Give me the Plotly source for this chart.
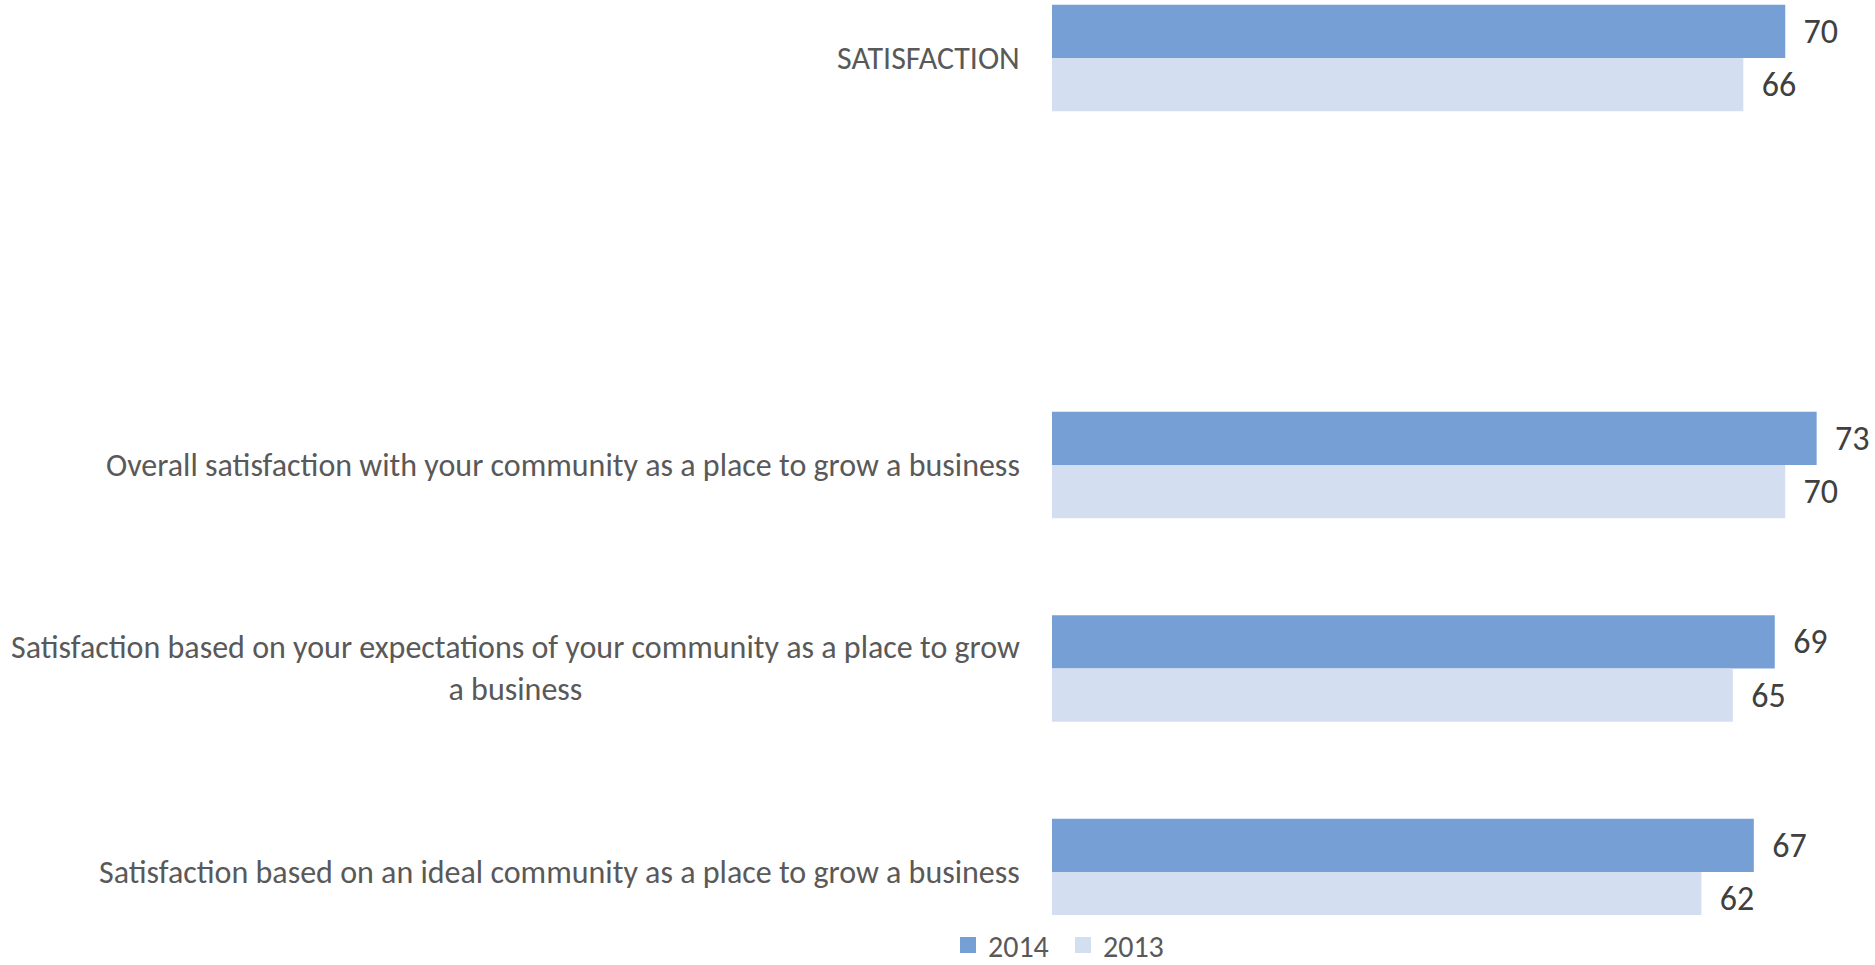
import plotly.graph_objects as go

# Survey items (top to bottom); the blank entry keeps an empty row between
# the summary score and the detail items.
categories = [
    "SATISFACTION",
    " ",
    "Overall satisfaction with your community as a place to grow a business",
    "Satisfaction based on your expectations of your community as a place to grow<br>a business",
    "Satisfaction based on an ideal community as a place to grow a business",
]
values_2014 = [70, None, 73, 69, 67]
values_2013 = [66, None, 70, 65, 62]
series_names = ["2014", "2013"]

color_2014 = "#759fd5"
color_2013 = "#d3dff0"
font_family = "Carlito, Lato, sans-serif"

fig = go.Figure()
for name, vals, col in zip(series_names, [values_2014, values_2013], [color_2014, color_2013]):
    fig.add_trace(go.Bar(
        y=categories,
        x=vals,
        name=name,
        orientation="h",
        marker=dict(color=col, line=dict(width=0)),
        texttemplate="\u00a0\u00a0%{x}",
        textposition="outside",
        cliponaxis=False,
        constraintext="none",
        outsidetextfont=dict(family=font_family, size=34, color="#404040"),
        showlegend=False,
    ))
    # legend entry with a larger square swatch
    fig.add_trace(go.Scatter(
        x=[None], y=[None], mode="markers", name=name,
        marker=dict(symbol="square", size=18, color=col),
        showlegend=True, hoverinfo="skip",
    ))

# Category labels as annotations so wrapped lines stay centred
for cat in categories:
    if cat.strip():
        fig.add_annotation(
            x=0, xref="paper", y=cat, yref="y",
            text=cat, showarrow=False,
            xanchor="right", yanchor="middle", align="center",
            xshift=-30,
            font=dict(family=font_family, size=32, color="#595959"),
        )

fig.update_layout(
    width=1875, height=965,
    margin=dict(l=1052, r=0, t=0, b=50),
    paper_bgcolor="white", plot_bgcolor="white",
    barmode="group", bargap=0.477, bargroupgap=0,
    showlegend=True,
    legend=dict(
        orientation="h",
        xref="container", x=948 / 1875, xanchor="left",
        yref="container", y=(965 - 945) / 965, yanchor="middle",
        font=dict(family=font_family, size=30, color="#595959"),
        traceorder="normal", entrywidth=70, itemclick=False,
    ),
    xaxis=dict(range=[0, 78.57], visible=False, fixedrange=True),
    yaxis=dict(
        categoryorder="array", categoryarray=categories,
        range=[4.211, -0.285],
        showticklabels=False, showgrid=False, zeroline=False, showline=False,
        ticks="",
    ),
)

fig.write_html("out.html")
